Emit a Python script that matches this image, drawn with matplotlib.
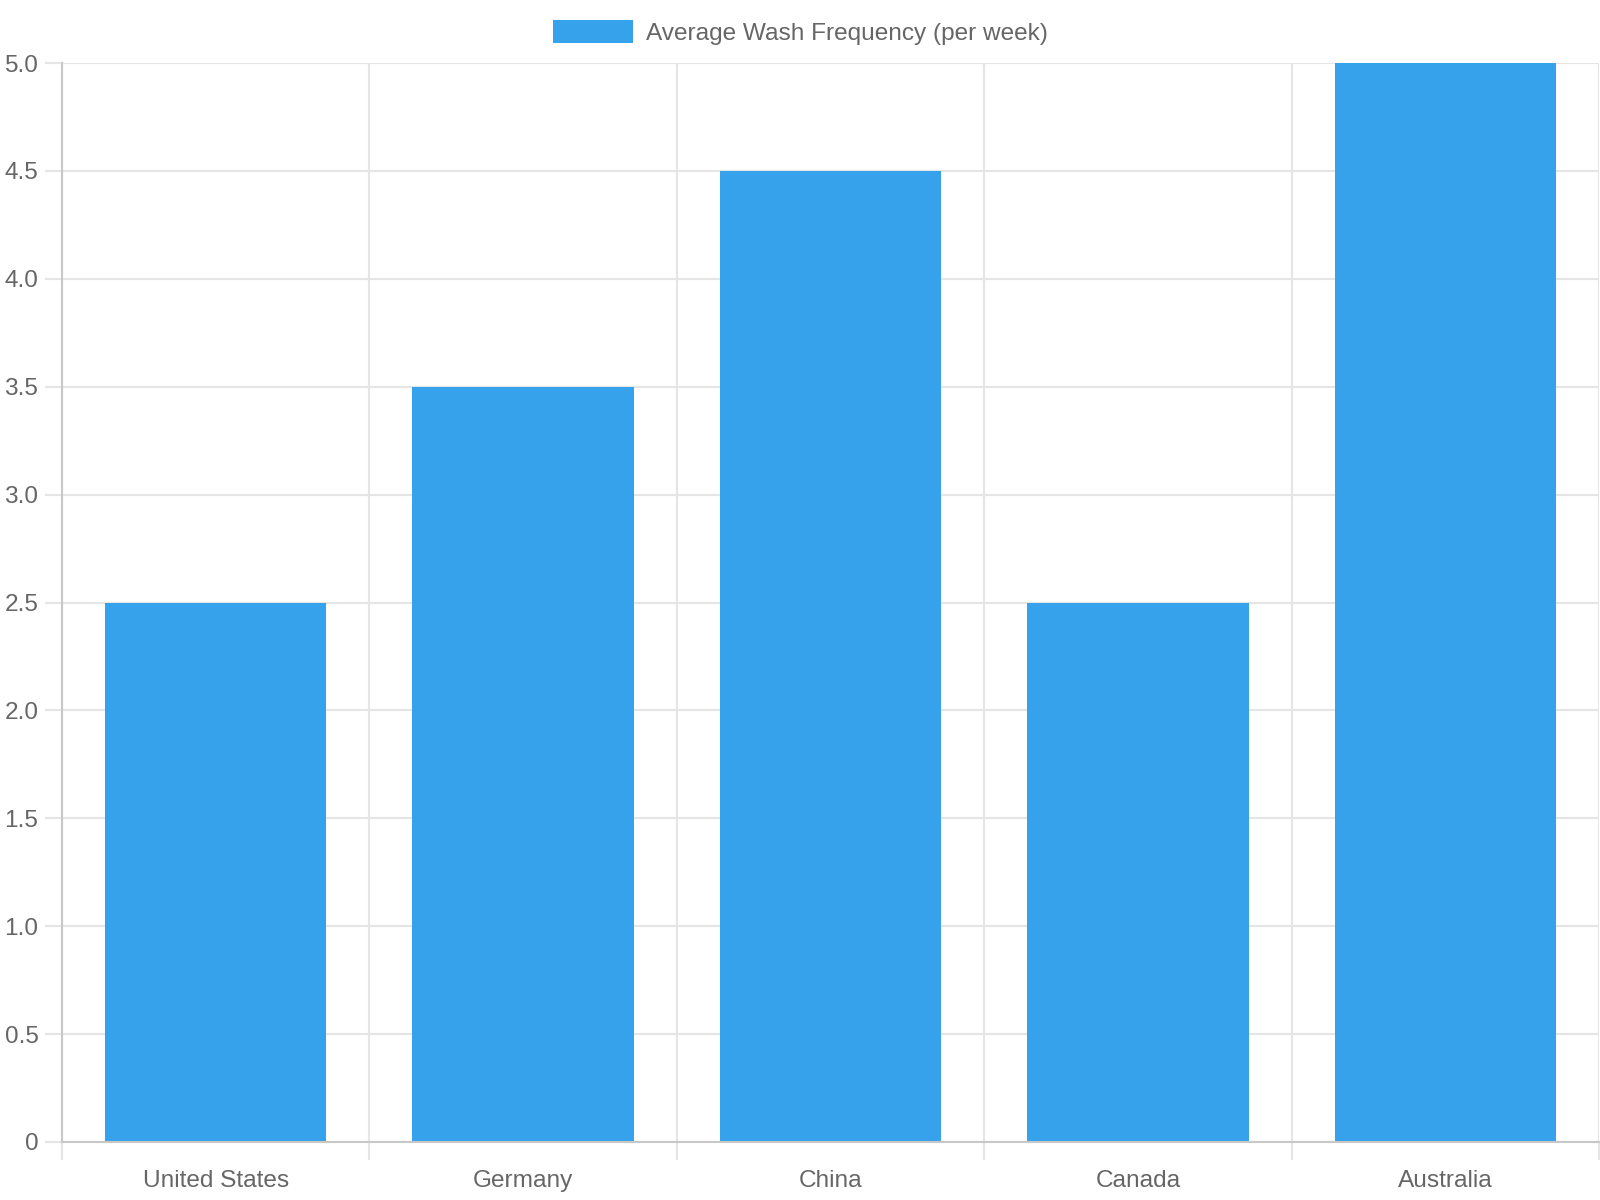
import matplotlib
matplotlib.use("Agg")
import matplotlib.pyplot as plt
import numpy as np

categories = ["United States", "Germany", "China", "Canada", "Australia"]
values = [2.5, 3.5, 4.5, 2.5, 5.0]
series_label = "Average Wash Frequency (per week)"
y_ticks = [0, 0.5, 1.0, 1.5, 2.0, 2.5, 3.0, 3.5, 4.0, 4.5, 5.0]
y_tick_labels = ["0", "0.5", "1.0", "1.5", "2.0", "2.5", "3.0", "3.5", "4.0", "4.5", "5.0"]

plt.rcParams['font.family'] = ['Liberation Sans', 'DejaVu Sans']
TEXT = "#666666"
GRID = "#e5e5e5"
AXIS = "#c8c8c8"
BLUE = "#36A2EB"
FS = 17.6

fig = plt.figure(figsize=(16, 12), dpi=100)
ax = fig.add_axes([62/1600, 1 - 1142/1200, 1 - 63/1600, (1142 - 63)/1200])

x = np.arange(len(categories))
ax.bar(x, values, width=0.72, color=BLUE, label=series_label, zorder=2)

ax.set_xlim(-0.5, len(categories) - 0.5)
ax.set_ylim(0, 5.0)

ax.set_yticks(y_ticks)
ax.set_yticklabels(y_tick_labels)
ax.set_xticks(x)
ax.set_xticklabels(categories)
ax.set_xticks(np.arange(len(categories) + 1) - 0.5, minor=True)

ax.tick_params(axis='y', which='major', length=12, width=1.5, color=GRID,
               pad=5, labelsize=FS, labelcolor=TEXT)
ax.tick_params(axis='x', which='major', length=0, pad=20.5, labelsize=FS, labelcolor=TEXT)
ax.tick_params(axis='x', which='minor', length=13, width=1.5, color=GRID)

ax.grid(True, axis='y', which='major', color=GRID, linewidth=1.5, zorder=0)
ax.grid(True, axis='x', which='minor', color=GRID, linewidth=1.5, zorder=0)
ax.grid(False, axis='x', which='major')
ax.set_axisbelow(True)

for s in ['top', 'right']:
    ax.spines[s].set_visible(False)
for s in ['left', 'bottom']:
    ax.spines[s].set_color(AXIS)
    ax.spines[s].set_linewidth(1.5)

handles, labels = ax.get_legend_handles_labels()
fig.legend(handles, labels, loc='center', bbox_to_anchor=(0.5, 1 - 32.5/1200),
           frameon=False, fontsize=FS, labelcolor=TEXT,
           handlelength=3.3, handleheight=1.1, handletextpad=0.5)

fig.savefig("out.png", dpi=100, facecolor="white")
